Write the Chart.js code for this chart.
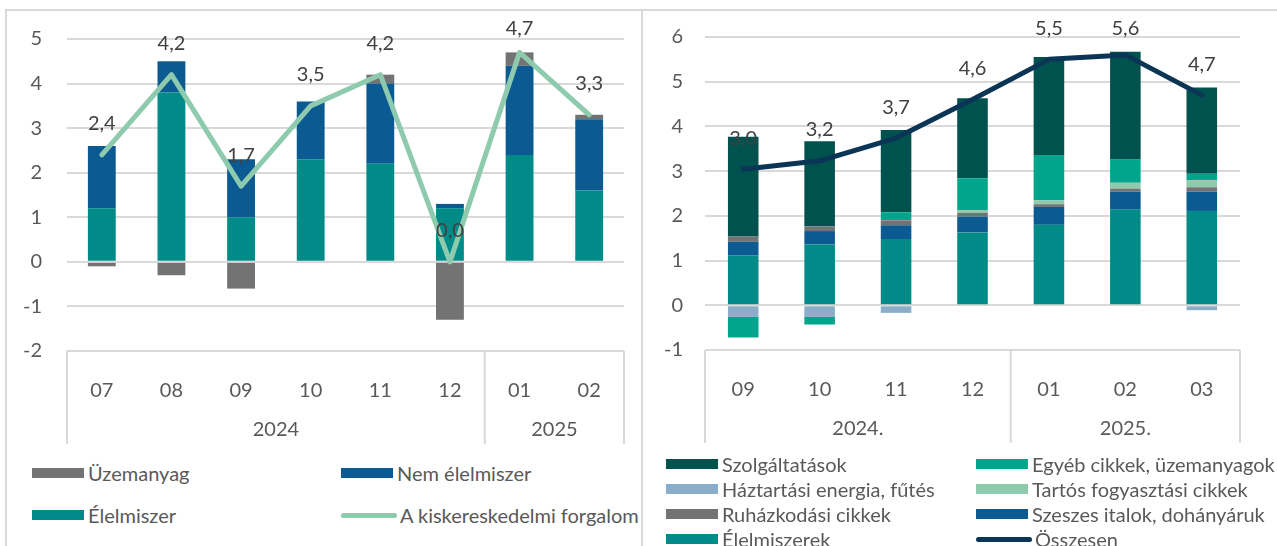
<!DOCTYPE html>
<html>
<head>
<meta charset="utf-8">
<script src="https://cdn.jsdelivr.net/npm/chart.js@4.4.1/dist/chart.umd.min.js"></script>
<style>
    body { margin: 0; background: #fff; width: 1277px; height: 546px; overflow: hidden; position: relative; font-family: Lato, sans-serif; }
    canvas { position: absolute; top: 0; }
    #leftChart { left: 0; }
    #rightChart { left: 642px; }
    .frame-top { position: absolute; left: 5px; top: 9px; width: 1272px; height: 2px; background: #d9d9d9; }
    .frame-left { position: absolute; left: 5px; top: 9px; width: 2px; height: 537px; background: #d9d9d9; }
    .frame-mid { position: absolute; left: 641px; top: 9px; width: 2px; height: 537px; background: #d9d9d9; }
    .legend-item { position: absolute; display: flex; align-items: center; font-size: 20px; color: #595959; white-space: nowrap; line-height: 24px; }
    .legend-item .swatch { width: 52px; height: 10px; margin-right: 4px; }
    .legend-item .line-swatch { width: 56px; height: 5px; border-radius: 3px; margin-right: 3px; }
</style>
</head>
<body>
<div class="frame-top"></div>
<div class="frame-left"></div>
<div class="frame-mid"></div>
<canvas id="leftChart" width="640" height="455"></canvas>
<canvas id="rightChart" width="635" height="455"></canvas>
<div id="legends"></div>
<script>
// left chart: kiskereskedelmi forgalom
const leftMonths = ['07', '08', '09', '10', '11', '12', '01', '02'];
const leftYears = [['2024', 6], ['2025', 2]];
const elelmiszer = [1.2, 3.8, 1.0, 2.3, 2.2, 1.2, 2.4, 1.6];
const nemElelmiszer = [1.4, 0.7, 1.3, 1.3, 1.8, 0.1, 2.0, 1.6];
const uzemanyag = [-0.1, -0.3, -0.6, 0, 0.2, -1.3, 0.3, 0.1];
const kiskereskedelmi = [2.4, 4.2, 1.7, 3.5, 4.2, 0.0, 4.7, 3.3];

// right chart: components
const rightMonths = ['09', '10', '11', '12', '01', '02', '03'];
const rightYears = [['2024.', 4], ['2025.', 3]];
const elelmiszerek = [1.11, 1.36, 1.48, 1.63, 1.80, 2.14, 2.11];
const szeszes = [0.31, 0.30, 0.31, 0.35, 0.40, 0.40, 0.43];
const ruhazkodasi = [0.12, 0.10, 0.11, 0.09, 0.06, 0.07, 0.10];
const haztartasi = [-0.26, -0.26, -0.17, 0, 0, 0, -0.11];
const tartos = [0, 0, 0, 0.06, 0.09, 0.13, 0.16];
const egyeb = [-0.46, -0.17, 0.18, 0.71, 1.01, 0.53, 0.14];
const szolgaltatasok = [2.23, 1.91, 1.84, 1.79, 2.19, 2.40, 1.93];
const osszesen = [3.04, 3.23, 3.74, 4.6, 5.5, 5.6, 4.7];

const FONT = 'Lato, sans-serif';
const TEXT = '#595959';
const GRID = '#d9d9d9';

// draws the two-level category box (years under months)
const yearGroupPlugin = {
    id: 'yearGroups',
    afterDraw(chart, args, opts) {
        const ctx = chart.ctx;
        const xs = chart.scales.x;
        const bottom = chart.chartArea.bottom;
        ctx.save();
        ctx.strokeStyle = GRID;
        ctx.lineWidth = 2;
        ctx.fillStyle = TEXT;
        ctx.font = '20px ' + FONT;
        ctx.textAlign = 'center';
        ctx.textBaseline = 'middle';
        let start = 0;
        let edges = [xs.left];
        opts.groups.forEach(([label, count]) => {
            const end = start + count;
            const right = end >= xs.ticks.length ? xs.right
                : (xs.getPixelForValue(end - 1) + xs.getPixelForValue(end)) / 2;
            ctx.fillText(label, (edges[edges.length - 1] + right) / 2, bottom + 79);
            edges.push(right);
            start = end;
        });
        edges.forEach(x => {
            ctx.beginPath();
            ctx.moveTo(x, bottom);
            ctx.lineTo(x, bottom + 93);
            ctx.stroke();
        });
        ctx.restore();
    }
};

// value labels above the line points
const lineLabelPlugin = {
    id: 'lineLabels',
    afterDatasetsDraw(chart) {
        const ctx = chart.ctx;
        chart.data.datasets.forEach((ds, i) => {
            if (ds.type !== 'line') return;
            const meta = chart.getDatasetMeta(i);
            ctx.save();
            ctx.fillStyle = '#404040';
            ctx.font = '20px ' + FONT;
            ctx.textAlign = 'center';
            ctx.textBaseline = 'middle';
            meta.data.forEach((pt, j) => {
                const y = Math.max(pt.y - 31, 29);
                ctx.fillText(ds.data[j].toFixed(1).replace('.', ','), pt.x, y);
            });
            ctx.restore();
        });
    }
};

function buildOptions(cfg) {
    return {
        responsive: false,
        animation: false,
        devicePixelRatio: 1,
        layout: { padding: { top: cfg.top, right: cfg.right, left: 0, bottom: 0 } },
        plugins: {
            legend: { display: false },
            tooltip: { enabled: false },
            yearGroups: { groups: cfg.groups }
        },
        scales: {
            x: {
                stacked: true,
                grid: { display: false },
                border: { display: false },
                ticks: { color: TEXT, font: { family: FONT, size: 20 }, padding: 20, maxRotation: 0 },
                afterFit: s => { s.height = cfg.xHeight; }
            },
            y: {
                stacked: true,
                min: cfg.min,
                max: cfg.max,
                ticks: { stepSize: 1, color: TEXT, font: { family: FONT, size: 20 }, padding: cfg.tickPad },
                grid: { color: GRID, lineWidth: 2, drawTicks: false },
                border: { display: false },
                afterFit: s => { s.width = cfg.yWidth; }
            }
        }
    };
}

function bar(label, data, color) {
    return { type: 'bar', label: label, data: data, backgroundColor: color, borderWidth: 0,
        categoryPercentage: 1, barPercentage: 0.4, order: 1, stack: 'bars' };
}

function line(label, data, color) {
    return { type: 'line', label: label, data: data, borderColor: color, backgroundColor: color,
        borderWidth: 5, pointRadius: 0, tension: 0, borderCapStyle: 'round', borderJoinStyle: 'round',
        order: 0, stack: 'line' };
}

const C = {
    elelmiszer: '#008a88',
    nemElelmiszer: '#0b5a92',
    gray: '#737373',
    lightLine: '#8ecbae',
    szolg: '#00524f',
    egyeb: '#00a58c',
    haztartasi: '#8aaec9',
    tartos: '#8ecbad',
    navy: '#0a3555'
};

const leftChart = new Chart(document.getElementById('leftChart'), {
    data: {
        labels: leftMonths,
        datasets: [
            bar('Élelmiszer', elelmiszer, C.elelmiszer),
            bar('Nem élelmiszer', nemElelmiszer, C.nemElelmiszer),
            bar('Üzemanyag', uzemanyag, C.gray),
            line('A kiskereskedelmi forgalom', kiskereskedelmi, C.lightLine)
        ]
    },
    options: buildOptions({ top: 39, right: 16, min: -2, max: 5, yWidth: 67, tickPad: 25, xHeight: 104, groups: leftYears }),
    plugins: [yearGroupPlugin, lineLabelPlugin]
});

const rightChart = new Chart(document.getElementById('rightChart'), {
    data: {
        labels: rightMonths,
        datasets: [
            bar('Élelmiszerek', elelmiszerek, C.elelmiszer),
            bar('Szeszes italok, dohányáruk', szeszes, C.nemElelmiszer),
            bar('Ruházkodási cikkek', ruhazkodasi, C.gray),
            bar('Háztartási energia, fűtés', haztartasi, C.haztartasi),
            bar('Tartós fogyasztási cikkek', tartos, C.tartos),
            bar('Egyéb cikkek, üzemanyagok', egyeb, C.egyeb),
            bar('Szolgáltatások', szolgaltatasok, C.szolg),
            line('Összesen', osszesen, C.navy)
        ]
    },
    options: buildOptions({ top: 37, right: 37, min: -1, max: 6, yWidth: 63, tickPad: 22, xHeight: 105, groups: rightYears }),
    plugins: [yearGroupPlugin, lineLabelPlugin]
});

// HTML legends, laid out in two columns like the original
function addLegend(chart, order, cols, rows) {
    const holder = document.getElementById('legends');
    order.forEach((name, k) => {
        const ds = chart.data.datasets.find(d => d.label === name);
        const item = document.createElement('div');
        item.className = 'legend-item';
        item.style.left = cols[k % 2] + 'px';
        item.style.top = (rows[Math.floor(k / 2)] - 12) + 'px';
        const sw = document.createElement('span');
        sw.className = ds.type === 'line' ? 'line-swatch' : 'swatch';
        sw.style.background = ds.type === 'line' ? ds.borderColor : ds.backgroundColor;
        item.appendChild(sw);
        item.appendChild(document.createTextNode(name));
        holder.appendChild(item);
    });
}

addLegend(leftChart, ['Üzemanyag', 'Nem élelmiszer', 'Élelmiszer', 'A kiskereskedelmi forgalom'],
    [32, 341], [473, 515]);
addLegend(rightChart, ['Szolgáltatások', 'Egyéb cikkek, üzemanyagok', 'Háztartási energia, fűtés',
    'Tartós fogyasztási cikkek', 'Ruházkodási cikkek', 'Szeszes italok, dohányáruk', 'Élelmiszerek', 'Összesen'],
    [666, 976], [464, 489, 514, 539]);
</script>
</body>
</html>
